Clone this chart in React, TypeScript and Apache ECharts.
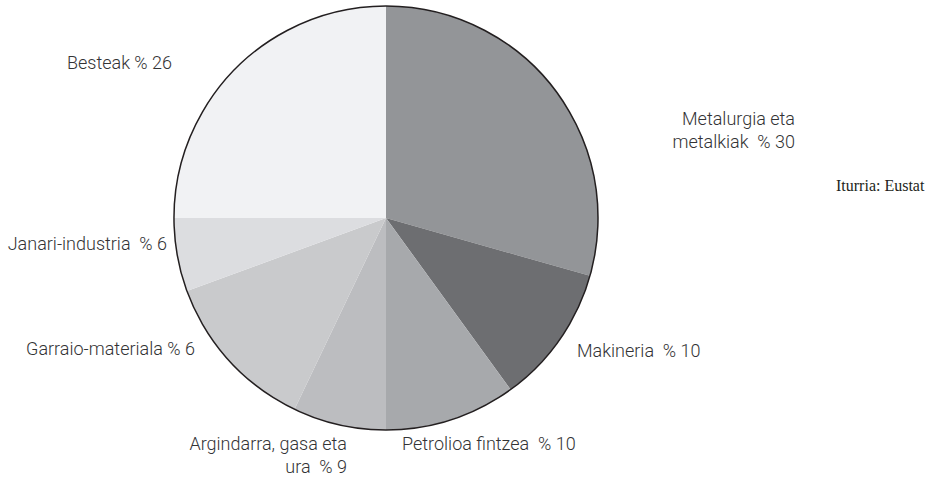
import React, { useEffect, useRef } from "react";
import * as echarts from "echarts";

// Sector names (line breaks as in the reference)
const categories = [
  "Metalurgia eta\nmetalkiak",
  "Makineria",
  "Petrolioa fintzea",
  "Argindarra, gasa eta\nura",
  "Garraio-materiala",
  "Janari-industria",
  "Besteak",
];
const sliceValues = [29.4, 10.6, 10.0, 7.1, 12.3, 5.6, 25.0];
// Percentages printed in the labels
const printedPct = [30, 10, 10, 9, 6, 6, 26];
const separators = ["  ", "  ", "  ", "  ", " ", "  ", " "];
const sliceColors = ["#939598", "#6d6e71", "#a7a9ac", "#bcbdc0", "#c9cacc", "#dcdde0", "#f1f2f4"];
const sourceText = "Iturria: Eustat";

// label anchors [x, y, align]
const labelAnchors: [number, number, string][] = [
  [795, 130, "right"],
  [577, 350, "left"],
  [402, 443, "left"],
  [347, 455, "right"],
  [195, 348, "right"],
  [167, 243, "right"],
  [172, 62, "right"],
];

export default function App() {
  const ref = useRef<HTMLDivElement>(null);
  useEffect(() => {
    if (!ref.current) return;
    const chart = echarts.init(ref.current, null, { renderer: "svg" });
    chart.setOption({
      animation: false,
      backgroundColor: "#ffffff",
      graphic: [
        {
          type: "text",
          left: 836,
          top: 177,
          style: {
            text: sourceText,
            fontFamily: "Liberation Serif",
            fontSize: 16,
            fill: "#231f20",
          },
        },
      ],
      series: [
        {
          type: "pie",
          center: [386, 218],
          radius: 212,
          startAngle: 90,
          clockwise: true,
          avoidLabelOverlap: false,
          silent: true,
          itemStyle: { borderWidth: 0 },
          label: {
            show: true,
            position: "outside",
            fontFamily: "Roboto",
            fontWeight: 300,
            fontSize: 18,
            lineHeight: 23,
            color: "#333335",
            formatter: (p: any) =>
              categories[p.dataIndex] + separators[p.dataIndex] + "% " + printedPct[p.dataIndex],
          },
          labelLine: { show: false },
          labelLayout: (p: any) => {
            const a = labelAnchors[p.dataIndex];
            return { x: a[0], y: a[1], align: a[2], verticalAlign: "middle" };
          },
          data: categories.map((c, i) => ({
            name: c,
            value: sliceValues[i],
            itemStyle: { color: sliceColors[i] },
          })),
        },
        {
          type: "pie",
          center: [386, 218],
          radius: 212,
          silent: true,
          label: { show: false },
          labelLine: { show: false },
          itemStyle: { color: "rgba(0,0,0,0)", borderColor: "#231f20", borderWidth: 1.5 },
          data: [{ name: "outline", value: 1 }],
        },
      ],
    });
    return () => chart.dispose();
  }, []);
  return (
    <div
      ref={ref}
      style={{ position: "fixed", left: 0, top: 0, width: 930, height: 477 }}
    />
  );
}
